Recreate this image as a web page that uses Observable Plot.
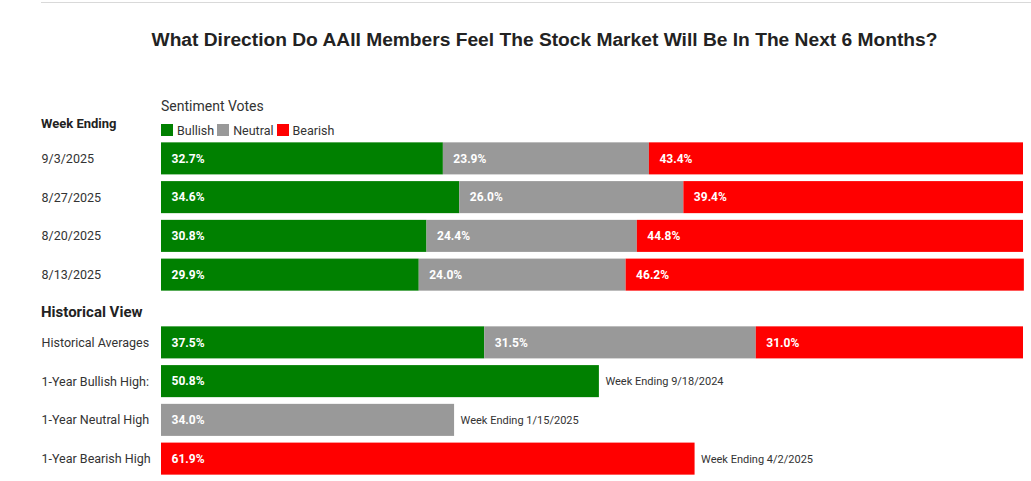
<!DOCTYPE html>
<html>
<head>
<meta charset="utf-8">
<script src="https://cdn.jsdelivr.net/npm/d3@7"></script>
<script src="https://cdn.jsdelivr.net/npm/@observablehq/plot@0.6"></script>
<style>
  html, body { margin: 0; padding: 0; background: #fff; }
  #page { position: relative; width: 1031px; height: 481px; overflow: hidden; font-family: Roboto, "Noto Sans", sans-serif; color: #333; }
  .abs { position: absolute; white-space: nowrap; }
  #rule { left: 41px; top: 2px; width: 990px; height: 1px; background: #d9d9d9; }
  #title { left: 58px; top: 29.3px; width: 973px; text-align: center; font-family: "Liberation Sans", Arial, sans-serif; font-weight: bold; font-size: 19.2px; line-height: 22px; color: #222; }
  #week { left: 41px; top: 116px; font-weight: bold; font-size: 13px; line-height: 16px; color: #222; }
  #sent { left: 161px; top: 98px; font-size: 14px; line-height: 16px; color: #333; }
  #legend { left: 161px; top: 124px; height: 12px; display: flex; align-items: center; font-size: 12.5px; color: #333; }
  #legend .sw { width: 12px; height: 12px; margin-right: 4px; }
  #legend .lb { margin-right: 3px; }
  #hist { left: 41px; top: 303px; font-weight: bold; font-size: 15px; line-height: 18px; color: #222; }
  #p1 { left: 0; top: 138.65px; }
  #p2 { left: 0; top: 322.65px; }
</style>
</head>
<body>
<div id="page">
  <div id="rule" class="abs"></div>
  <div id="title" class="abs">What Direction Do AAII Members Feel The Stock Market Will Be In The Next 6 Months?</div>
  <div id="week" class="abs">Week Ending</div>
  <div id="sent" class="abs">Sentiment Votes</div>
  <div id="legend" class="abs"></div>
  <div id="hist" class="abs">Historical View</div>
  <div id="p1" class="abs"></div>
  <div id="p2" class="abs"></div>
</div>
<script>
// ---- data ----
const categories = ["Bullish", "Neutral", "Bearish"];
const colors = ["#008000", "#999999", "#ff0000"];

const weeks = ["9/3/2025", "8/27/2025", "8/20/2025", "8/13/2025"];
const bullish = [32.7, 34.6, 30.8, 29.9];
const neutral = [23.9, 26.0, 24.4, 24.0];
const bearish = [43.4, 39.4, 44.8, 46.2];

const histLabel = "Historical Averages";
const histValues = [37.5, 31.5, 31.0];

const highLabels = ["1-Year Bullish High:", "1-Year Neutral High", "1-Year Bearish High"];
const highCategories = ["Bullish", "Neutral", "Bearish"];
const highValues = [50.8, 34.0, 61.9];
const highDates = ["Week Ending 9/18/2024", "Week Ending 1/15/2025", "Week Ending 4/2/2025"];

// ---- build tables ----
const weeklyRows = [];
weeks.forEach((w, i) => {
  [bullish[i], neutral[i], bearish[i]].forEach((v, j) => {
    weeklyRows.push({row: w, cat: categories[j], value: v, note: ""});
  });
});

const histRows = [];
histValues.forEach((v, j) => histRows.push({row: histLabel, cat: categories[j], value: v, note: ""}));
highLabels.forEach((l, i) => histRows.push({row: l, cat: highCategories[i], value: highValues[i], note: highDates[i]}));

// ---- legend ----
const legend = document.getElementById("legend");
categories.forEach((c, i) => {
  const sw = document.createElement("div");
  sw.className = "sw";
  sw.style.background = colors[i];
  const lb = document.createElement("span");
  lb.className = "lb";
  lb.textContent = c;
  legend.appendChild(sw);
  legend.appendChild(lb);
});

function makePlot(rows, domain) {
  return Plot.plot({
    width: 1031,
    height: 155,
    marginLeft: 161,
    marginRight: 8,
    marginTop: 0,
    marginBottom: 0,
    style: {fontFamily: "Roboto, 'Noto Sans', sans-serif", fontSize: "12px", background: "transparent", overflow: "visible"},
    x: {domain: [0, 100], axis: null},
    y: {domain, paddingInner: 0.173, paddingOuter: 0.0865, round: false, label: null},
    color: {domain: categories, range: colors},
    marks: [
      Plot.barX(rows, Plot.stackX({x: "value", y: "row", fill: "cat", z: "cat", order: null})),
      Plot.text(rows, Plot.stackX1({
        x: "value", y: "row", z: "cat", order: null,
        text: d => d.value.toFixed(1) + "%",
        textAnchor: "start", dx: 10, fill: "white", fontWeight: "bold", fontSize: 12
      })),
      Plot.text(rows.filter(d => d.note), Plot.stackX2({
        x: "value", y: "row", z: "cat", order: null,
        text: "note",
        textAnchor: "start", dx: 6, fill: "#333", fontSize: 11
      })),
      Plot.axisY({tickSize: 0, tickPadding: 0, textAnchor: "start", dx: -120, fontSize: 12.5, fill: "#333", label: null})
    ]
  });
}

document.getElementById("p1").appendChild(makePlot(weeklyRows, weeks));
document.getElementById("p2").appendChild(makePlot(histRows, [histLabel, ...highLabels]));
</script>
</body>
</html>
